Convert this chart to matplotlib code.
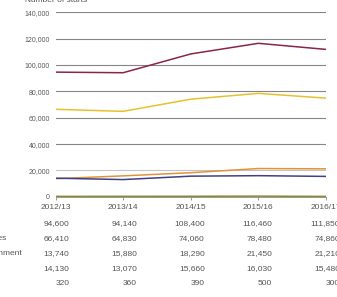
import matplotlib
matplotlib.use("Agg")
import matplotlib.pyplot as plt
from matplotlib import transforms

plt.rcParams['font.family'] = ['Liberation Sans', 'DejaVu Sans']

# data
years = ['2012/13', '2013/14', '2014/15', '2015/16', '2016/17']
row_labels = ['Total', 'Engineering and Manufacturing Technologies',
              'Construction, Planning and the Built Environment', 'ICT',
              'Science and Mathematics']
total = [94600, 94140, 108400, 116460, 111850]
engineering = [66410, 64830, 74060, 78480, 74860]
construction = [13740, 15880, 18290, 21450, 21210]
ict = [14130, 13070, 15660, 16030, 15480]
science = [320, 360, 390, 500, 300]
series = [total, engineering, construction, ict, science]
colors = ['#8c2449', '#e6c12e', '#e0943a', '#404088', '#8a8a2c']

W, H = 337, 297
fig = plt.figure(figsize=(W / 100, H / 100), dpi=100)
ax = fig.add_axes([55.5 / W, 1 - 196.8 / H, (326 - 55.5) / W, (196.8 - 12.3) / H])

x = list(range(len(years)))
for vals, c in zip(series, colors):
    ax.plot(x, vals, color=c, lw=1.1, solid_capstyle='butt', zorder=3)

ax.set_xlim(0, 4)
ax.set_ylim(0, 140000)
yt = list(range(0, 140001, 20000))
ax.set_yticks(yt)
ax.set_yticklabels([f'{v:,}' for v in yt], fontsize=5, color='#5a5a5a')
for v in yt[1:]:
    ax.axhline(v, color='#c4c4c4' if v == 20000 else '#858585', lw=0.8, zorder=1)

ax.set_xticks(x)
ax.set_xticklabels(years, fontsize=6, color='#555555')
ax.tick_params(axis='y', length=0, pad=4)
ax.tick_params(axis='x', length=2.5, width=0.6, color='#888888', pad=2.5)
for s in ['top', 'right', 'left']:
    ax.spines[s].set_visible(False)
ax.spines['bottom'].set_color('#888888')
ax.spines['bottom'].set_linewidth(0.6)

fig.text(25 / W, 1 - 2 / H, 'Number of starts', fontsize=6, color='#555555',
         ha='left', va='baseline')

# table below the chart
row_y = [223.3, 238.7, 253.7, 268.3, 283.3]
trans = transforms.blended_transform_factory(ax.transData, fig.transFigure)
trans = transforms.offset_copy(trans, fig=fig, x=14, y=0, units='dots')
for vals, yy in zip(series, row_y):
    for xi, v in zip(x, vals):
        ax.text(xi, 1 - yy / H, f'{v:,}', transform=trans, fontsize=6,
                color='#555555', ha='right', va='center', clip_on=False)

# row labels, left aligned so the long label ends near x = 22 px
fig.canvas.draw()
r = fig.canvas.get_renderer()
probe = fig.text(0, 0, row_labels[2], fontsize=6)
wpx = probe.get_window_extent(r).width
probe.remove()
x0 = (22 - wpx) / W
for lab, yy in zip(row_labels, row_y):
    fig.text(x0, 1 - yy / H, lab, fontsize=6, color='#555555',
             ha='left', va='center')

fig.savefig('out.png', dpi=100)
